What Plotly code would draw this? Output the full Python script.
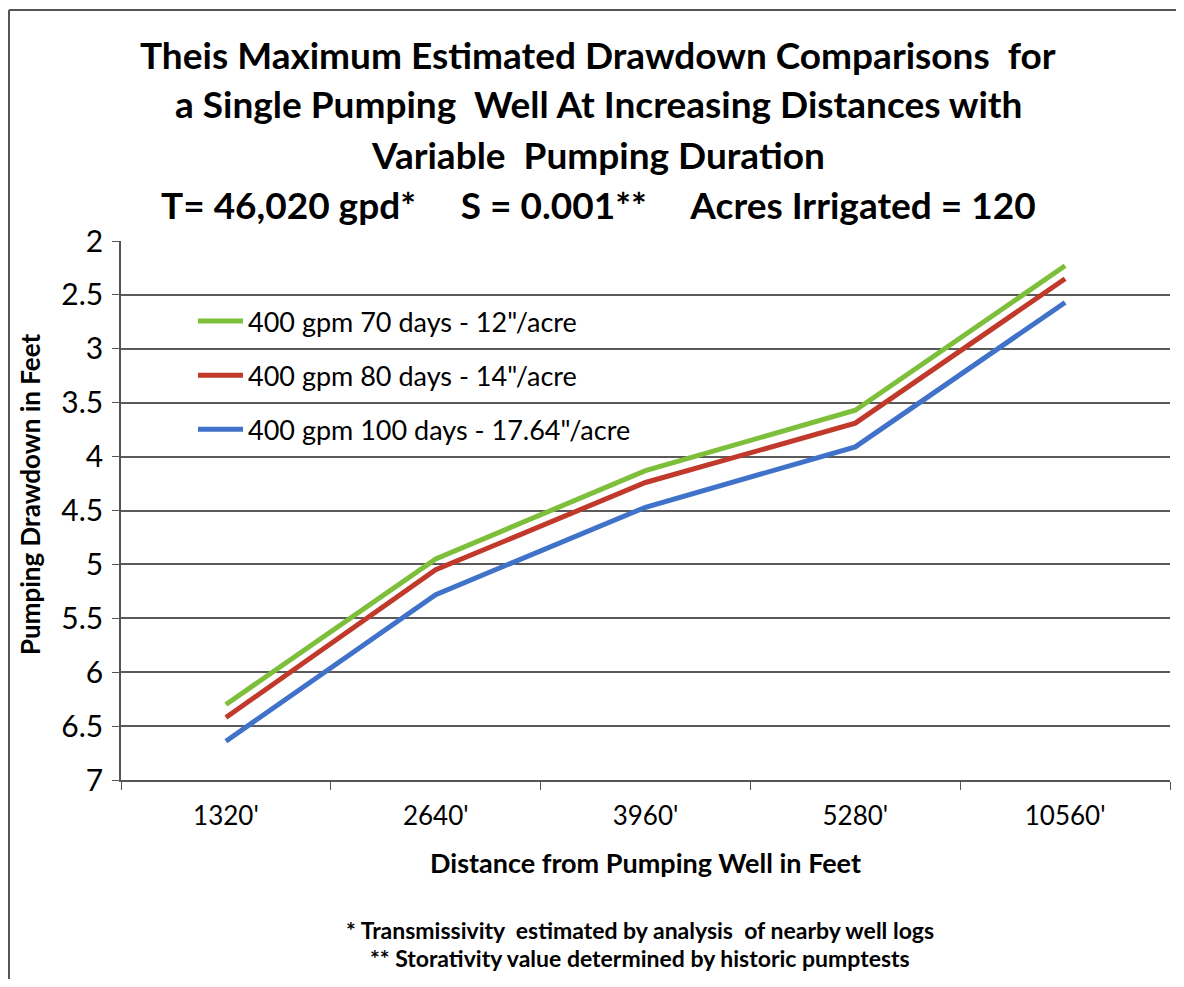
import plotly.graph_objects as go

categories = ["1320'", "2640'", "3960'", "5280'", "10560'"]
green_70 = [6.30, 4.95, 4.13, 3.57, 2.23]
red_80 = [6.42, 5.05, 4.24, 3.69, 2.35]
blue_100 = [6.64, 5.28, 4.47, 3.91, 2.57]
series_names = ["400 gpm 70 days - 12\"/acre",
                "400 gpm 80 days - 14\"/acre",
                "400 gpm 100 days - 17.64\"/acre"]
colors = ["#7DBF3A", "#C0392B", "#3F72C8"]

# figure coordinates (page is offset by the 8px body margin)
W, H = 1168, 971
L, R, T, B = 113, 6, 233, 199
FONT = "Lato"

fig = go.Figure()
for i, (name, vals, c) in enumerate(zip(series_names, [green_70, red_80, blue_100], colors)):
    fig.add_trace(go.Scatter(x=categories, y=vals, mode="lines", name=name, legendgroup="g%d" % i,
                             line=dict(color=c, width=5)))

def px(x):
    return (x - L) / (W - L - R)

def py(y):
    return (H - B - y) / (H - T - B)

annotations = []
title_lines = [
    ("Theis Maximum Estimated Drawdown Comparisons  for", 46),
    ("a Single Pumping  Well At Increasing Distances with", 96),
    ("Variable  Pumping Duration", 146),
    ("T= 46,020 gpd*     S = 0.001**     Acres Irrigated = 120", 197),
]
for txt, y in title_lines:
    annotations.append(dict(text="<b>%s</b>" % txt, x=px(590), y=py(y), xref="paper", yref="paper",
                            showarrow=False, xanchor="center", yanchor="middle",
                            font=dict(family=FONT, size=37, color="black")))
annotations.append(dict(text="<b>Pumping Drawdown in Feet</b>", x=px(22), y=py(487), xref="paper",
                        yref="paper", showarrow=False, textangle=-90, xanchor="center",
                        yanchor="middle", font=dict(family=FONT, size=26, color="black")))
annotations.append(dict(text="<b>Distance from Pumping Well in Feet</b>", x=px(637), y=py(854),
                        xref="paper", yref="paper", showarrow=False, xanchor="center",
                        yanchor="middle", font=dict(family=FONT, size=27, color="black")))
foot = [("* Transmissivity  estimated by analysis  of nearby well logs", 922),
        ("** Storativity value determined by historic pumptests", 950)]
for txt, y in foot:
    annotations.append(dict(text="<b>%s</b>" % txt, x=px(632), y=py(y), xref="paper", yref="paper",
                            showarrow=False, xanchor="center", yanchor="middle",
                            font=dict(family=FONT, size=23, color="black")))

shapes = [
    dict(type="line", xref="paper", yref="paper", x0=px(1), x1=px(1168), y0=py(2), y1=py(2),
         line=dict(color="#555555", width=2)),
    dict(type="line", xref="paper", yref="paper", x0=px(1), x1=px(1), y0=py(2), y1=py(971),
         line=dict(color="#555555", width=2)),
]

fig.update_layout(
    width=W, height=H,
    margin=dict(l=L, r=R, t=T, b=B, autoexpand=False),
    paper_bgcolor="white", plot_bgcolor="white",
    font=dict(family=FONT, color="black"),
    showlegend=True,
    legend=dict(x=px(185), y=py(289), xanchor="left", yanchor="top",
                font=dict(family=FONT, size=27, color="black"),
                bgcolor="rgba(0,0,0,0)", tracegroupgap=16, itemwidth=45),
    annotations=annotations,
    shapes=shapes,
)
fig.update_xaxes(type="category", range=[-0.5, 4.5], showgrid=False, showline=True,
                 linecolor="#555555", linewidth=1.5,
                 ticks="outside", ticklen=8, tickcolor="#555555", tickson="boundaries",
                 tickfont=dict(family=FONT, size=26, color="black"), ticklabelstandoff=12,
                 automargin=False)
fig.update_yaxes(range=[7, 2], autorange=False, dtick=0.5, tick0=2, showgrid=True,
                 gridcolor="#5a5a5a", gridwidth=1.5, showline=True, linecolor="#555555",
                 linewidth=1.5, ticks="outside", ticklen=7, tickcolor="#555555",
                 tickfont=dict(family=FONT, size=30, color="black"), zeroline=False,
                 automargin=False, ticklabelstandoff=3)

fig.write_html("out.html")
